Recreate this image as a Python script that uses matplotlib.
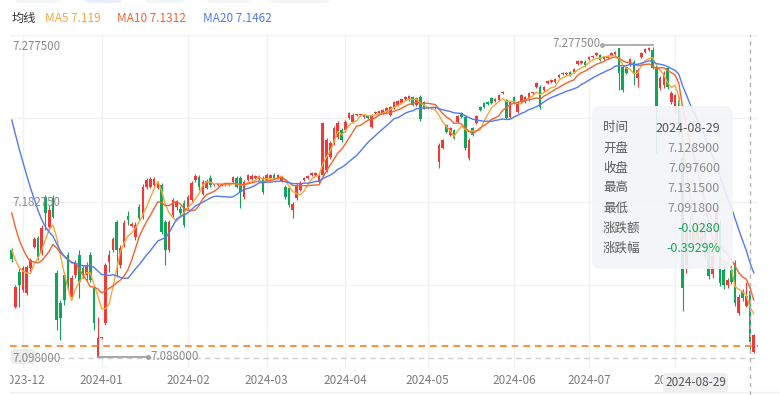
import numpy as np
import pandas as pd
import matplotlib
matplotlib.use("Agg")
import matplotlib.pyplot as plt
from matplotlib.patches import FancyBboxPatch
from matplotlib.lines import Line2D
from matplotlib.transforms import IdentityTransform, Bbox, TransformedBbox, blended_transform_factory

plt.rcParams['font.family'] = ['Noto Sans CJK SC', 'DejaVu Sans']

# weekday categories, 2023-11-28 .. 2024-08-30
dates = pd.bdate_range('2023-11-28', '2024-08-30')

# closes of the 19 days before the window, only used to warm up the moving averages
prev_closes = [7.3100, 7.3080, 7.3050, 7.3020, 7.2990, 7.2950, 7.2900, 7.2800, 7.2650, 7.2420,
               7.2200, 7.2080, 7.1980, 7.1880, 7.1805, 7.1620, 7.1560, 7.1530, 7.1501]

opens = [
    7.1539, 7.1192, 7.1405, 7.1295, 7.1277, 7.1429, 7.1557, 7.1612, 7.1521, 7.1861,  # 0
    7.1679, 7.1855, 7.1399, 7.1216, 7.1387, 7.1508, 7.1253, 7.1387, 7.1508, 7.1429,  # 10
    7.1387, 7.1508, 7.1307, 7.0880, 7.1003, 7.1094, 7.1466, 7.1539, 7.1709, 7.1447,  # 20
    7.1569, 7.1746, 7.1685, 7.1618, 7.1801, 7.1740, 7.1922, 7.1922, 7.1935, 7.1916,  # 30
    7.1935, 7.1709, 7.1539, 7.1752, 7.1801, 7.1788, 7.1825, 7.1801, 7.1843, 7.1965,  # 40
    7.1983, 7.1880, 7.1916, 7.1977, 7.1935, 7.1935, 7.1935, 7.1935, 7.1935, 7.1953,  # 50
    7.1977, 7.1977, 7.1861, 7.1965, 7.1971, 7.1977, 7.1971, 7.1977, 7.1965, 7.1977,  # 60
    7.1996, 7.1977, 7.1959, 7.1922, 7.1916, 7.1782, 7.1855, 7.1904, 7.1965, 7.1977,  # 70
    7.1996, 7.1996, 7.1953, 7.1996, 7.2026, 7.2105, 7.2190, 7.2227, 7.2270, 7.2270,  # 80
    7.2343, 7.2318, 7.2361, 7.2361, 7.2349, 7.2355, 7.2288, 7.2373, 7.2373, 7.2373,  # 90
    7.2379, 7.2361, 7.2404, 7.2422, 7.2434, 7.2458, 7.2452, 7.2470, 7.2422, 7.2470,  # 100
    7.2440, 7.2404, 7.2404, 7.2404, 7.2075, 7.2160, 7.2300, 7.2239, 7.2270, 7.2318,  # 110
    7.2373, 7.2349, 7.2099, 7.2282, 7.2312, 7.2410, 7.2434, 7.2440, 7.2464, 7.2446,  # 120
    7.2452, 7.2495, 7.2452, 7.2349, 7.2470, 7.2379, 7.2440, 7.2440, 7.2452, 7.2495,  # 130
    7.2531, 7.2531, 7.2513, 7.2556, 7.2562, 7.2562, 7.2592, 7.2611, 7.2611, 7.2623,  # 140
    7.2623, 7.2671, 7.2678, 7.2684, 7.2702, 7.2714, 7.2726, 7.2726, 7.2702, 7.2708,  # 150
    7.2726, 7.2732, 7.2769, 7.2653, 7.2653, 7.2665, 7.2684, 7.2586, 7.2714, 7.2745,  # 160
    7.2757, 7.2757, 7.2653, 7.2525, 7.2544, 7.2647, 7.2440, 7.2410, 7.2450, 7.2100,  # 170
    7.1450, 7.1700, 7.1580, 7.1690, 7.1590, 7.1700, 7.1560, 7.1390, 7.1560, 7.1700,  # 180
    7.1417, 7.1326, 7.1417, 7.1460, 7.1155, 7.1290, 7.1200, 7.1289, 7.0920,          # 190
]
closes = [
    7.1484, 7.1313, 7.1326, 7.1429, 7.1435, 7.1478, 7.1606, 7.1496, 7.1673, 7.1764,
    7.1782, 7.1740, 7.1112, 7.1125, 7.1234, 7.1313, 7.1368, 7.1460, 7.1344, 7.1387,
    7.1447, 7.1356, 7.1094, 7.1003, 7.1003, 7.1447, 7.1508, 7.1606, 7.1539, 7.1551,
    7.1703, 7.1721, 7.1697, 7.1691, 7.1734, 7.1922, 7.1965, 7.1971, 7.1971, 7.1947,
    7.1648, 7.1539, 7.1709, 7.1843, 7.1831, 7.1764, 7.1691, 7.1861, 7.1947, 7.1990,
    7.1922, 7.1953, 7.1959, 7.1935, 7.1935, 7.1935, 7.1935, 7.1935, 7.1935, 7.1983,
    7.1922, 7.1892, 7.1953, 7.1996, 7.1990, 7.1990, 7.1990, 7.1892, 7.1996, 7.1996,
    7.1977, 7.1996, 7.1983, 7.1861, 7.1813, 7.1819, 7.1935, 7.1947, 7.1977, 7.1990,
    7.2008, 7.2008, 7.1996, 7.2312, 7.2209, 7.2190, 7.2282, 7.2312, 7.2209, 7.2318,
    7.2373, 7.2361, 7.2361, 7.2361, 7.2361, 7.2343, 7.2361, 7.2379, 7.2385, 7.2391,
    7.2404, 7.2410, 7.2440, 7.2446, 7.2458, 7.2470, 7.2477, 7.2422, 7.2464, 7.2337,
    7.2404, 7.2404, 7.2404, 7.2404, 7.2178, 7.2209, 7.2257, 7.2282, 7.2221, 7.2355,
    7.2349, 7.2160, 7.2209, 7.2239, 7.2355, 7.2391, 7.2410, 7.2428, 7.2434, 7.2458,
    7.2483, 7.2501, 7.2343, 7.2440, 7.2434, 7.2440, 7.2483, 7.2470, 7.2495, 7.2495,
    7.2556, 7.2410, 7.2531, 7.2568, 7.2574, 7.2580, 7.2604, 7.2617, 7.2617, 7.2604,
    7.2641, 7.2690, 7.2690, 7.2665, 7.2714, 7.2720, 7.2738, 7.2696, 7.2714, 7.2720,
    7.2738, 7.2745, 7.2617, 7.2513, 7.2617, 7.2702, 7.2617, 7.2635, 7.2738, 7.2763,
    7.2769, 7.2647, 7.2410, 7.2586, 7.2617, 7.2531, 7.2495, 7.2483, 7.2250, 7.1310,
    7.1650, 7.1600, 7.1650, 7.1600, 7.1680, 7.1500, 7.1380, 7.1500, 7.1780, 7.1338,
    7.1326, 7.1356, 7.1344, 7.1216, 7.1253, 7.1249, 7.1256, 7.0976, 7.1020,
]
highs = [
    7.1551, 7.1326, 7.1429, 7.1441, 7.1447, 7.1490, 7.1618, 7.1624, 7.1691, 7.1874,
    7.1813, 7.1874, 7.1417, 7.1234, 7.1405, 7.1527, 7.1387, 7.1478, 7.1539, 7.1447,
    7.1466, 7.1527, 7.1326, 7.1131, 7.1009, 7.1460, 7.1539, 7.1618, 7.1721, 7.1569,
    7.1721, 7.1776, 7.1709, 7.1709, 7.1819, 7.1941, 7.1977, 7.1983, 7.1983, 7.1959,
    7.1947, 7.1721, 7.1721, 7.1855, 7.1843, 7.1807, 7.1843, 7.1874, 7.1959, 7.2002,
    7.1996, 7.1965, 7.1971, 7.1996, 7.1941, 7.1941, 7.1941, 7.1941, 7.1941, 7.1990,
    7.1990, 7.1990, 7.1965, 7.2002, 7.2002, 7.1996, 7.1996, 7.1990, 7.2008, 7.2002,
    7.2008, 7.2002, 7.1990, 7.1935, 7.1929, 7.1831, 7.1947, 7.1959, 7.1983, 7.1996,
    7.2014, 7.2014, 7.2002, 7.2318, 7.2221, 7.2200, 7.2294, 7.2324, 7.2282, 7.2330,
    7.2379, 7.2373, 7.2367, 7.2367, 7.2367, 7.2361, 7.2367, 7.2385, 7.2391, 7.2397,
    7.2410, 7.2416, 7.2446, 7.2452, 7.2464, 7.2477, 7.2483, 7.2477, 7.2470, 7.2483,
    7.2446, 7.2410, 7.2410, 7.2410, 7.2190, 7.2215, 7.2306, 7.2288, 7.2276, 7.2361,
    7.2379, 7.2361, 7.2221, 7.2288, 7.2361, 7.2416, 7.2440, 7.2446, 7.2470, 7.2464,
    7.2489, 7.2507, 7.2458, 7.2446, 7.2477, 7.2446, 7.2489, 7.2477, 7.2501, 7.2501,
    7.2562, 7.2544, 7.2538, 7.2574, 7.2580, 7.2586, 7.2611, 7.2623, 7.2623, 7.2629,
    7.2647, 7.2696, 7.2696, 7.2696, 7.2720, 7.2726, 7.2745, 7.2732, 7.2720, 7.2726,
    7.2745, 7.2751, 7.2769, 7.2665, 7.2659, 7.2708, 7.2696, 7.2647, 7.2745, 7.2769,
    7.2772, 7.2775, 7.2665, 7.2598, 7.2629, 7.2659, 7.2507, 7.2489, 7.2470, 7.2150,
    7.1700, 7.1750, 7.1700, 7.1720, 7.1720, 7.1730, 7.1600, 7.1540, 7.1800, 7.1720,
    7.1440, 7.1370, 7.1450, 7.1480, 7.1270, 7.1300, 7.1344, 7.1315, 7.1030,
]
lows = [
    7.1466, 7.1186, 7.1192, 7.1283, 7.1265, 7.1405, 7.1551, 7.1478, 7.1508, 7.1660,
    7.1660, 7.1734, 7.1051, 7.0990, 7.1204, 7.1295, 7.1247, 7.1368, 7.1247, 7.1368,
    7.1356, 7.1344, 7.1051, 7.0880, 7.0997, 7.1082, 7.1405, 7.1527, 7.1374, 7.1429,
    7.1557, 7.1691, 7.1679, 7.1600, 7.1721, 7.1728, 7.1910, 7.1916, 7.1929, 7.1910,
    7.1636, 7.1447, 7.1527, 7.1740, 7.1782, 7.1752, 7.1679, 7.1788, 7.1825, 7.1953,
    7.1904, 7.1874, 7.1910, 7.1922, 7.1929, 7.1929, 7.1929, 7.1929, 7.1929, 7.1947,
    7.1916, 7.1795, 7.1849, 7.1959, 7.1965, 7.1971, 7.1965, 7.1880, 7.1959, 7.1971,
    7.1971, 7.1971, 7.1953, 7.1849, 7.1801, 7.1734, 7.1843, 7.1898, 7.1959, 7.1971,
    7.1990, 7.1990, 7.1947, 7.1990, 7.2014, 7.2093, 7.2178, 7.2215, 7.2196, 7.2257,
    7.2337, 7.2312, 7.2355, 7.2355, 7.2343, 7.2337, 7.2282, 7.2367, 7.2367, 7.2367,
    7.2373, 7.2355, 7.2397, 7.2416, 7.2428, 7.2452, 7.2446, 7.2416, 7.2416, 7.2324,
    7.2397, 7.2397, 7.2397, 7.2397, 7.2038, 7.2154, 7.2251, 7.2233, 7.2215, 7.2312,
    7.2343, 7.2148, 7.2087, 7.2233, 7.2306, 7.2385, 7.2404, 7.2422, 7.2428, 7.2440,
    7.2446, 7.2489, 7.2337, 7.2343, 7.2428, 7.2373, 7.2434, 7.2434, 7.2446, 7.2489,
    7.2525, 7.2397, 7.2507, 7.2550, 7.2556, 7.2556, 7.2586, 7.2604, 7.2604, 7.2598,
    7.2617, 7.2665, 7.2671, 7.2653, 7.2696, 7.2708, 7.2720, 7.2690, 7.2696, 7.2702,
    7.2720, 7.2726, 7.2513, 7.2501, 7.2611, 7.2659, 7.2544, 7.2531, 7.2708, 7.2738,
    7.2751, 7.2641, 7.2130, 7.2513, 7.2525, 7.2519, 7.2428, 7.2373, 7.2230, 7.1170,
    7.1400, 7.1570, 7.1550, 7.1580, 7.1560, 7.1480, 7.1360, 7.1370, 7.1540, 7.1320,
    7.1300, 7.1310, 7.1330, 7.1200, 7.1140, 7.1230, 7.1190, 7.0918, 7.0910,
]

month_labels = ['2023-12', '2024-01', '2024-02', '2024-03', '2024-04',
                '2024-05', '2024-06', '2024-07', '2024-08']
y_labels = ['7.277500', '7.182750', '7.098000']
y_label_vals = [7.2775, 7.18275, 7.0880]
max_price, min_price = 7.2775, 7.0880
last_price = 7.0956
legend_items = [('MA5 7.119', 5, '#f7a83a'), ('MA10 7.1312', 10, '#f3642f'), ('MA20 7.1462', 20, '#5479f2')]
tip_rows = [('时间', '2024-08-29', '#555555'), ('开盘', '7.128900', '#8c8c8c'),
            ('收盘', '7.097600', '#8c8c8c'), ('最高', '7.131500', '#8c8c8c'),
            ('最低', '7.091800', '#8c8c8c'), ('涨跌额', '-0.0280', '#18a35c'),
            ('涨跌幅', '-0.3929%', '#18a35c')]
hover_date = '2024-08-29'

assert len(opens) == len(closes) == len(highs) == len(lows) == len(dates), \
    (len(opens), len(closes), len(highs), len(lows), len(dates))

o = np.array(opens); c = np.array(closes); h = np.array(highs); l = np.array(lows)
x = np.arange(len(dates))
RED, GREEN = '#f03a3a', '#13a45c'

W, H = 780, 395
fig = plt.figure(figsize=(W / 100, H / 100), dpi=100)
ax = fig.add_axes([10 / W, 1 - 368 / H, 748 / W, 333 / H])
ax.set_xlim(-0.464, 199.13)
ax.set_ylim(7.0820, 7.2848)
ax.set_axis_off()

# grid
for yf in np.linspace(7.0820, 7.2848, 5):
    ax.axhline(yf, color='#f1f1f1', lw=1, zorder=0)
month_pos = [dates.get_indexer([d])[0] for d in
             [dates[(dates.year == int(m[:4])) & (dates.month == int(m[5:]))][0] for m in month_labels]]
for p in month_pos:
    ax.axvline(p, color='#f1f1f1', lw=1, zorder=0)

# candles
up = c >= o
cols = np.where(up, RED, GREEN)
body = np.abs(c - o)
bh = np.maximum(body, 0.0006)
bottom = np.minimum(o, c) - (bh - body) / 2
ax.vlines(x, l, h, colors=cols, lw=0.8, zorder=2)
ax.bar(x, bh, 0.7, bottom=bottom, color=cols, lw=0, zorder=2)

# moving averages
all_close = pd.Series(prev_closes + closes)
for _, n, col in legend_items:
    ma = all_close.rolling(n).mean().iloc[len(prev_closes):].values
    ax.plot(x, ma, color=col, lw=1.0, zorder=3)

# price lines
ax.axhline(min_price, color='#cfcfcf', lw=1, ls=(0, (4, 3)), zorder=4)
ax.axhline(last_price, color='#ff7b1c', lw=1.2, ls=(0, (4, 3)), zorder=4)

# max / min markers
imax = int(np.argmax(h)); imin = int(np.argmin(l))
ax.plot([157.5, imax], [max_price + 0.0012, max_price + 0.0012], color='#a8a8a8', lw=1.3, zorder=5)
ax.plot([157.5], [max_price + 0.0012], 'o', color='#a8a8a8', ms=2.5, zorder=5)
ax.text(157.0, max_price + 0.0021, '%.6f' % max_price, ha='right', va='center',
        fontsize=8.3, color='#8a8a8a', zorder=5)
ax.plot([imin, 36.4], [min_price + 0.0004, min_price + 0.0004], color='#a0a0a0', lw=1.3, zorder=5)
ax.plot([36.4], [min_price + 0.0004], 'o', color='#a0a0a0', ms=2.5, zorder=5)
ax.text(37.0, min_price + 0.0007, '%.6f' % min_price, ha='left', va='center',
        fontsize=8.3, color='#8a8a8a', zorder=5)

# y labels inside the plot (the bottom one sits on a small pointer box)
ty = blended_transform_factory(fig.transFigure, ax.transData)
ax.add_patch(FancyBboxPatch((11, 395 - 364), 24, 15, boxstyle='round,pad=0,rounding_size=3',
                            transform=IdentityTransform(), fc='#ececec', ec='none',
                            zorder=5, clip_on=False))
for s, v in zip(y_labels, y_label_vals):
    ax.text(12 / W, v, s, transform=ty, ha='left', va='center', fontsize=8.3,
            color='#8b8b8b', zorder=6)

# x labels (clipped at the left edge and under the crosshair date box)
tx = blended_transform_factory(ax.transData, fig.transFigure)
for p, s in zip(month_pos, month_labels):
    right = 663 if s == month_labels[-1] else W
    clip = TransformedBbox(Bbox([[10 / W, 0], [right / W, 1]]), fig.transFigure)
    t = ax.text(p, 1 - 381 / H, s, transform=tx, ha='center', va='center', fontsize=8.5,
                color='#7b7b7b', clip_on=True)
    t.set_clip_box(clip)

# crosshair
ih = dates.get_indexer([pd.Timestamp(hover_date)])[0]
fig.add_artist(Line2D([ih, ih], [0, 1 - 35 / H], transform=tx, color='#b5b5b5', lw=1,
                      ls=(0, (3, 3)), zorder=7))
fig.add_artist(FancyBboxPatch((663, 395 - 392), 65, 19, boxstyle='round,pad=0,rounding_size=3',
                              transform=IdentityTransform(), fc='#efeff2', ec='none', zorder=8))
fig.text(695.5 / W, 1 - 382.5 / H, hover_date, ha='center', va='center', fontsize=8.5,
         color='#555555', zorder=9)

# tooltip
fig.add_artist(FancyBboxPatch((592, 395 - 269), 141, 163, boxstyle='round,pad=0,rounding_size=9',
                              transform=IdentityTransform(), fc='#f3f4f8', ec='none',
                              alpha=0.9, zorder=10))
for k, (lab, val, vc) in enumerate(tip_rows):
    yy = 1 - (128 + 20 * k) / H
    fig.text(603 / W, yy, lab, ha='left', va='center', fontsize=9, color='#5a5a5a', zorder=11)
    fig.text(720 / W, yy, val, ha='right', va='center', fontsize=9, color=vc, zorder=11)

# legend row
fig.text(12 / W, 1 - 18 / H, '均线', ha='left', va='center', fontsize=8.8, color='#333333')
for (s, _, col), px in zip(legend_items, [45, 117, 203]):
    fig.text(px / W, 1 - 18 / H, s, ha='left', va='center', fontsize=8.5, color=col)

# faint tabs cut off at the top edge
for x0, w0, fc in [(15, 45, '#f3f4f6'), (85, 37, '#eceffb'), (145, 40, '#f3f4f6'),
                   (207, 43, '#f3f4f6'), (270, 60, '#f3f4f6')]:
    fig.add_artist(FancyBboxPatch((x0, 392), w0, 14, boxstyle='round,pad=0,rounding_size=5',
                                  transform=IdentityTransform(), fc=fc, ec='none'))
fig.add_artist(Line2D([10 / W, 1], [1 - 392 / H, 1 - 392 / H], transform=fig.transFigure,
                      color='#f1f1f1', lw=1))

fig.savefig('out.png', dpi=100)
